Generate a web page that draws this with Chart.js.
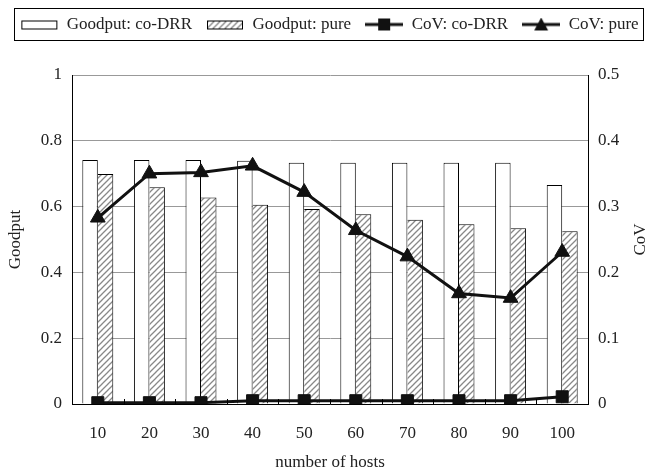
<!DOCTYPE html>
<html lang="en">
<head>
    <meta charset="UTF-8">
    <title>Goodput and CoV vs number of hosts</title>
    <script src="https://cdn.jsdelivr.net/npm/chart.js"></script>
    <style>
        html, body { margin: 0; padding: 0; background: #fff; }
        #wrap { width: 659px; height: 473px; }
    </style>
</head>
<body>
    <div id="wrap"><canvas id="goodputChart"></canvas></div>
    <script>
        // values
        const hosts = ['10', '20', '30', '40', '50', '60', '70', '80', '90', '100'];
        const goodputCoDRR = [0.742, 0.742, 0.742, 0.739, 0.733, 0.733, 0.733, 0.733, 0.733, 0.666];
        const goodputPure = [0.699, 0.659, 0.628, 0.606, 0.593, 0.577, 0.560, 0.546, 0.534, 0.525];
        const covCoDRR = [0.002, 0.002, 0.002, 0.005, 0.005, 0.005, 0.005, 0.005, 0.005, 0.011];
        const covPure = [0.283, 0.350, 0.352, 0.362, 0.322, 0.264, 0.224, 0.168, 0.161, 0.231];

        const FONT = "'Liberation Serif', 'Times New Roman', serif";
        const TEXT = '#222';

        // hatch fill for the "pure" bars
        function makeHatch() {
            const c = document.createElement('canvas');
            c.width = 6; c.height = 6;
            const g = c.getContext('2d');
            g.fillStyle = '#fff';
            g.fillRect(0, 0, 6, 6);
            g.strokeStyle = '#888';
            g.lineWidth = 1.3;
            g.beginPath();
            g.moveTo(-1, 7); g.lineTo(7, -1);
            g.moveTo(-4, 4); g.lineTo(4, -4);
            g.moveTo(2, 10); g.lineTo(10, 2);
            g.stroke();
            return g.createPattern(c, 'repeat');
        }
        const hatch = makeHatch();

        // little pictures for the legend
        function legendIcon(kind) {
            const c = document.createElement('canvas');
            c.width = 38; c.height = 14;
            const g = c.getContext('2d');
            if (kind === 'box' || kind === 'hatch') {
                g.fillStyle = kind === 'box' ? '#fff' : hatch;
                g.fillRect(1.5, 3.5, 35, 8);
                g.strokeStyle = '#000';
                g.lineWidth = 1;
                g.strokeRect(1.5, 3.5, 35, 8);
            } else {
                g.strokeStyle = '#111';
                g.lineWidth = 3;
                g.beginPath(); g.moveTo(0, 7); g.lineTo(38, 7); g.stroke();
                g.fillStyle = '#111';
                g.beginPath();
                if (kind === 'square') {
                    g.rect(13, 1, 12, 12);
                } else {
                    g.moveTo(19, 0); g.lineTo(26, 13); g.lineTo(12, 13); g.closePath();
                }
                g.fill();
            }
            return c;
        }
        const icons = [legendIcon('box'), legendIcon('hatch'), legendIcon('square'), legendIcon('tri')];

        const legendSpace = {
            id: 'legendSpace',
            beforeInit(chart) {
                const fit = chart.legend.fit;
                chart.legend.fit = function () {
                    fit.bind(chart.legend)();
                    this.height += 32;
                };
            }
        };

        const extras = {
            id: 'extras',
            afterDraw(chart) {
                const ctx = chart.ctx;
                const area = chart.chartArea;
                const boxes = chart.legend.legendHitBoxes;
                ctx.save();
                // frame around the legend
                if (boxes && boxes.length) {
                    const l = Math.min(...boxes.map(b => b.left)) - 6;
                    const r = Math.max(...boxes.map(b => b.left + b.width)) + 5;
                    const t = boxes[0].top - 8;
                    const h = boxes[0].height + 15;
                    ctx.strokeStyle = '#000';
                    ctx.lineWidth = 1;
                    ctx.strokeRect(Math.round(l) + 0.5, Math.round(t) + 0.5, Math.round(r - l), Math.round(h));
                }
                // small inward ticks between categories
                const x = chart.scales.x;
                const step = (x.right - x.left) / hosts.length;
                ctx.strokeStyle = '#000';
                ctx.lineWidth = 1;
                ctx.beginPath();
                for (let i = 1; i < hosts.length; i++) {
                    const px = Math.round(x.left + i * step) + 0.5;
                    ctx.moveTo(px, area.bottom);
                    ctx.lineTo(px, area.bottom - 5);
                }
                ctx.stroke();
                // right axis title, reading bottom to top
                ctx.fillStyle = TEXT;
                ctx.font = '17px ' + FONT;
                ctx.textAlign = 'center';
                ctx.textBaseline = 'middle';
                ctx.translate(641, (area.top + area.bottom) / 2);
                ctx.rotate(-Math.PI / 2);
                ctx.fillText('CoV', 0, 0);
                ctx.restore();
            }
        };

        const shortNum = value => String(Number(value.toFixed(2)));

        const ctx = document.getElementById('goodputChart').getContext('2d');
        new Chart(ctx, {
            type: 'bar',
            data: {
                labels: hosts,
                datasets: [
                    {
                        label: 'Goodput: co-DRR',
                        data: goodputCoDRR,
                        backgroundColor: '#fff',
                        borderColor: '#000',
                        borderWidth: 1,
                        yAxisID: 'y',
                        order: 1
                    },
                    {
                        label: 'Goodput: pure',
                        data: goodputPure,
                        backgroundColor: hatch,
                        borderColor: '#000',
                        borderWidth: { top: 1, right: 1, bottom: 0, left: 0 },
                        yAxisID: 'y',
                        order: 1
                    },
                    {
                        type: 'line',
                        label: 'CoV: co-DRR',
                        data: covCoDRR,
                        borderColor: '#111',
                        backgroundColor: '#111',
                        borderWidth: 3,
                        pointStyle: 'rect',
                        pointRadius: 8.5,
                        pointBorderWidth: 1,
                        yAxisID: 'y1',
                        order: 0
                    },
                    {
                        type: 'line',
                        label: 'CoV: pure',
                        data: covPure,
                        borderColor: '#111',
                        backgroundColor: '#111',
                        borderWidth: 3,
                        pointStyle: 'triangle',
                        pointRadius: 8.5,
                        pointBorderWidth: 1,
                        yAxisID: 'y1',
                        order: 0
                    }
                ]
            },
            options: {
                responsive: true,
                maintainAspectRatio: false,
                animation: false,
                layout: { padding: { top: 2, left: 0, right: 0, bottom: 0 } },
                datasets: {
                    bar: { categoryPercentage: 0.6, barPercentage: 1.0 }
                },
                plugins: {
                    tooltip: { enabled: false },
                    legend: {
                        position: 'top',
                        labels: {
                            usePointStyle: true,
                            pointStyleWidth: 38,
                            padding: 14,
                            color: TEXT,
                            font: { family: FONT, size: 17 },
                            generateLabels(chart) {
                                return chart.data.datasets.map((ds, i) => ({
                                    text: ds.label,
                                    pointStyle: icons[i],
                                    datasetIndex: i,
                                    hidden: false,
                                    lineWidth: 0,
                                    fontColor: TEXT
                                }));
                            }
                        }
                    }
                },
                scales: {
                    x: {
                        grid: { display: false },
                        border: { color: '#000' },
                        ticks: { color: TEXT, padding: 11, font: { family: FONT, size: 17 } },
                        title: {
                            display: true,
                            text: 'number of hosts',
                            color: TEXT,
                            padding: { top: 0, bottom: 0 },
                            font: { family: FONT, size: 17 }
                        },
                        afterFit(scale) { scale.height = 69; }
                    },
                    y: {
                        position: 'left',
                        min: 0,
                        max: 1,
                        ticks: { stepSize: 0.2, color: TEXT, padding: 10, callback: shortNum, font: { family: FONT, size: 17 } },
                        grid: { color: '#999', drawTicks: false },
                        border: { color: '#000' },
                        title: {
                            display: true,
                            text: 'Goodput',
                            color: TEXT,
                            padding: { top: 5, bottom: 0 },
                            font: { family: FONT, size: 17 }
                        },
                        afterFit(scale) { scale.width = 72; }
                    },
                    y1: {
                        position: 'right',
                        min: 0,
                        max: 0.5,
                        ticks: { stepSize: 0.1, color: TEXT, padding: 10, callback: shortNum, font: { family: FONT, size: 17 } },
                        grid: { display: false, drawTicks: false },
                        border: { color: '#000' },
                        afterFit(scale) { scale.width = 71; }
                    }
                }
            },
            plugins: [legendSpace, extras]
        });
    </script>
</body>
</html>
